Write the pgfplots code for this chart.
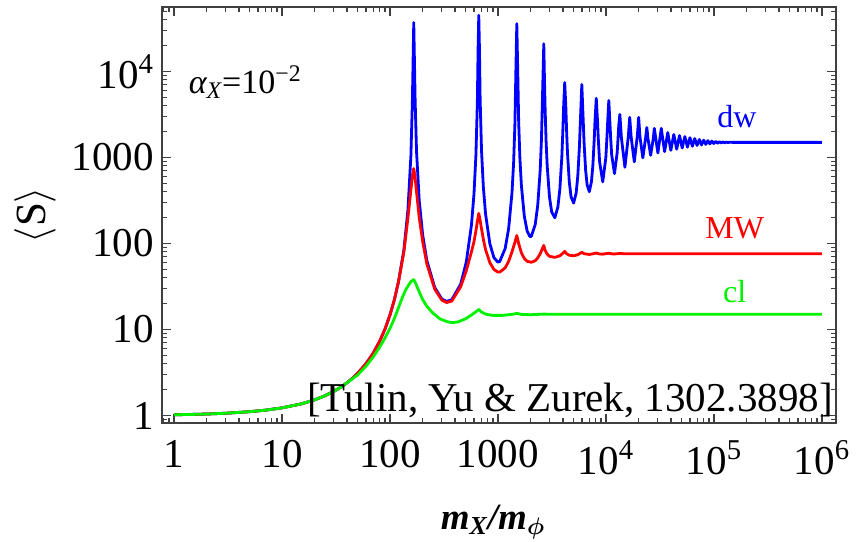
\documentclass[border=0pt]{standalone}
\usepackage{fontspec}
\setmainfont{Liberation Serif}
\usepackage{pgfplots}
\pgfplotsset{compat=1.18}
\usepackage{bm}
\definecolor{cB}{rgb}{0,0,1}
\definecolor{cR}{rgb}{1,0,0}
\definecolor{cG}{rgb}{0,0.95,0}
\begin{document}
\begin{tikzpicture}[x=1pt,y=1pt]
\useasboundingbox (-81,-59) rectangle (350,211.5);
\begin{axis}[
 at={(0,0)}, anchor=south west,
 scale only axis, width=337pt, height=208pt,
 xmode=log, ymode=log,
 xmin=0.774, xmax=1.35e6, ymin=0.818, ymax=56200,
 axis line style={black!75, line width=0.8pt},
 tick align=inside,
 major tick length=4.5pt, minor tick length=2.5pt,
 every tick/.style={black!75, line width=0.6pt},
 xtick={1,10,100,1000,10000,100000,1000000},
 xticklabels={1,10,100,1000,10\textsuperscript{4},10\textsuperscript{5},10\textsuperscript{6}},
 minor xtick={0.8,0.9,2,3,4,5,6,7,8,9,20,30,40,50,60,70,80,90,200,300,400,500,600,700,800,900,2000,3000,4000,5000,6000,7000,8000,9000,20000,30000,40000,50000,60000,70000,80000,90000,200000,300000,400000,500000,600000,700000,800000,900000},
 ytick={1,10,100,1000,10000},
 yticklabels={1,10,100,1000,10\textsuperscript{4}},
 minor ytick={0.9,2,3,4,5,6,7,8,9,20,30,40,50,60,70,80,90,200,300,400,500,600,700,800,900,2000,3000,4000,5000,6000,7000,8000,9000,20000,30000,40000,50000},
 every tick label/.append style={font=\fontsize{20.5}{23}\selectfont},
 xticklabel style={yshift=-5.2pt},
 yticklabel style={xshift=-0.5pt},
 every axis plot/.append style={line width=1.4pt, line join=round, mark=none},
 clip=true,
]
\addplot[cB] coordinates {
(1,1.02) (1.5,1.03) (2,1.04) (3,1.062) (5,1.107) (7,1.153) (10,1.227) (15,1.362) (20,1.519) (25,1.695) (30,1.898) (35,2.132) (40,2.401) (45,2.714) (50,3.08) (60,4.01) (70,5.32) (80,7.25) (90,10.14) (100,14.75) (110,22.4) (120,36.1)
(134.5,83.8) (146.7,248) (156.2,1049) (161.1,4316) (166,37000) (171.0,4583) (176.1,1182) (186.5,316) (200.9,125) (219.5,63.3) (259.4,30.8) (302.5,22.6) (334.7,21.2) (373.5,22.2) (451.9,33.8) (508.4,60.5) (568.1,164) (599.3,373) (624.8,1058) (644.2,4326) (654.1,17530)
(664,45000) (674.0,18064) (684.1,4593) (704.4,1193) (732.1,456) (767.3,221) (840.4,99.9) (916.7,68.6) (996.4,60.7) (1037.5,61.7) (1165.7,87.3) (1255.4,149) (1348.3,389) (1396.1,870) (1434.8,2430) (1464.3,9832)
(1494,36000) (1524,10233) (1554.4,2632) (1595.3,994) (1647.1,475) (1753.4,208) (1862.9,139.5) (1975.8,120.4) (2033.5,120.9) (2211.5,165.6) (2334.4,277.6) (2460.5,710) (2524.9,1573) (2576.9,4364)
(2656,21000) (2696,7936) (2736,3492) (2790,1551) (2859,783) (2998,350) (3141,233) (3361.5,199) (3589,266) (3745,433) (3905,1024) (3986,1994) (4051,3800)
(4150,7450) (4250,3900) (4318,2090) (4403,1127) (4575,521) (4751,349) (5021.5,295) (5299,387) (5488,614) (5681,1354) (5778,2385)
(5976,7060) (6177,2435) (6279,1442) (6484,709) (6694,481) (7013.5,400) (7341,524) (7563,805) (7789,1617) (7903,2540)
(8134,4880) (8368,2545) (8486,1677) (8725,898) (9337.5,520) (9970,988) (10229,1780) (10360,2503)
(10624,4600) (10891,2480) (11026,1809) (11298,1072) (11994,650) (12709,1145) (13002,1853) (13149,2383)
(13446,3170) (13898,1700) (14982,770) (16106,1750)
(16600,2930) (17102,1750) (18302,890) (19542,1800)
(20086,2930) (20638,1750) (21954,990) (23310,1700)
(23904,2230) (24505,1650) (25938,1060) (27410,1650)
(28054,2180) (30254,1130) (32536,2180) (34902,1170) (37350,1950) (39882,1210) (42496,1850) (45194,1250) (47974,1800) (50838,1290) (53784,1750) (56814,1320) (59926,1700) (63122,1350) (66400,1660) (69762,1380) (73206,1620) (76734,1400) (80344,1590) (84038,1420) (87814,1570) (91674,1440) (95616,1550) (99642,1455) (103750,1535) (107942,1465) (112216,1525) (116574,1475) (121014,1515) (125538,1485) (130144,1510) (134834,1490) (139606,1505) (150000,1498) (1000000,1498)
};
\addplot[cR] coordinates {
(1,1.02) (1.5,1.03) (2,1.04) (3,1.062) (5,1.107) (7,1.153) (10,1.227) (15,1.362) (20,1.519) (25,1.695) (30,1.898) (35,2.132) (40,2.401) (45,2.714) (50,3.08) (60,4.01) (70,5.32) (80,7.25) (90,10.14) (100,14.75) (110,22.4) (120,36.1)
(134.5,80) (146.7,200) (156.2,420) (161.1,600) (166,745) (171,580) (176.1,400) (186.5,200) (200.9,105) (219.5,58) (259.4,29.5) (302.5,21.9) (334.7,20.6) (373.5,21.4) (451.9,31.5) (508.4,48) (568.1,80) (599.3,105) (624.8,140) (644.2,180)
(664,224) (684.1,185) (704.4,148) (732.1,112) (767.3,85) (840.4,60) (916.7,50) (996.4,46.5) (1037.5,46.5) (1165.7,52) (1255.4,62) (1348.3,80) (1434.8,103)
(1494,124) (1554.4,100) (1647.1,78) (1753.4,67) (1862.9,62) (2033.5,60.5) (2211.5,63) (2334.4,68) (2460.5,76) (2576.9,87)
(2656,95) (2736,83) (2859,75) (2998,71) (3361.5,69) (3745,72) (3986,77)
(4150,81) (4318,76) (4575,73) (5021.5,72) (5488,74) (5778,77)
(5976,79) (6279,76) (7013.5,74.5) (7789,76.5) (8134,77.5) (8725,75.5) (9337.5,75.2) (10229,76.5) (10624,77) (11298,75.8) (11994,75.6) (13446,76.5) (15000,76) (1000000,76)
};
\addplot[cG] coordinates {
(1,1.02) (1.5,1.03) (2,1.04) (3,1.062) (5,1.107) (7,1.153) (10,1.227) (15,1.362) (20,1.519) (25,1.695) (30,1.898) (35,2.132) (40,2.401) (45,2.68) (50,2.95) (60,3.75) (70,4.8) (80,6.2) (90,8.0) (100,10.3) (110,13.5) (120,18.0) (130,23.5) (140,29) (150,33.5) (158,36.5)
(166,38) (172,35) (180,30.5) (190,26) (200,22.5) (220,18.5) (250,15.5) (290,13.3) (340,12.3) (380,12.0) (430,12.3) (500,13.3) (580,15.0) (630,16.2)
(664,17.1) (700,16.0) (780,15.0) (900,14.6) (1100,14.6) (1350,15.0) (1494,15.4) (1650,15.0) (2000,14.85) (2656,15.1) (3500,15.0) (1000000,15.0)
};
\node[anchor=west, font=\fontsize{17}{20}\selectfont] at (axis cs:1.18,7500) {{\itshape α}\textsubscript{\itshape X}=10\textsuperscript{−2}};
\node[text=cB, font=\fontsize{16}{18}\selectfont] at (axis cs:163000,2960) {dw};
\node[text=cR, font=\fontsize{16}{18}\selectfont] at (axis cs:156000,151) {MW};
\node[text=cG, font=\fontsize{16}{18}\selectfont] at (axis cs:156000,27.3) {cl};
\node[anchor=east, inner sep=0pt, font=\fontsize{20.5}{23}\selectfont] at (axis description cs:0.996,0.055) {[Tulin, Yu \& Zurek, 1302.3898]};
\end{axis}
\node[rotate=90, font=\fontsize{21.5}{24}\selectfont] at (-63.5,104) {$\langle$S$\rangle$};
\node[font=\fontsize{18.5}{21}\selectfont] at (165.5,-49.5) {{\bfseries\itshape m}\textsubscript{\bfseries\itshape X}{\bfseries\itshape /m}\textsubscript{$\bm{\phi}$}};
\end{tikzpicture}
\end{document}
